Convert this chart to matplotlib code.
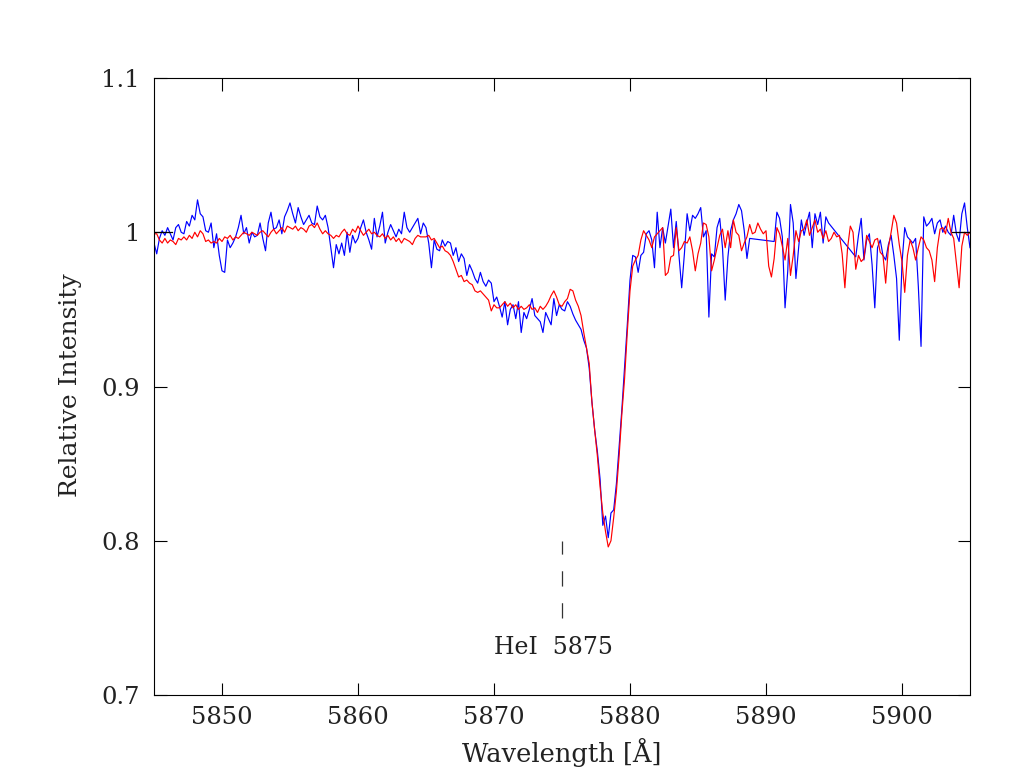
import numpy as np
import matplotlib
matplotlib.use("Agg")
import matplotlib.pyplot as plt

# ---------------- data ----------------
wl_start, wl_step, n_pts = 5845.0, 0.2, 301
wavelength = np.round(wl_start + wl_step * np.arange(n_pts), 2)

blue_flux = [
    0.993, 0.986, 0.996, 1.001, 0.998,
    1.003, 0.999, 0.995, 1.003, 1.005,
    1.000, 0.999, 1.007, 1.004, 1.011,
    1.008, 1.021, 1.012, 1.010, 1.001,
    1.000, 1.006, 0.990, 0.999, 0.985,
    0.975, 0.974, 0.995, 0.990, 0.993,
    0.997, 1.003, 1.011, 0.999, 1.003,
    0.993, 1.000, 0.997, 0.998, 1.006,
    0.996, 0.988, 1.006, 1.013, 1.002,
    1.003, 1.008, 0.999, 1.010, 1.014,
    1.019, 1.012, 1.006, 1.016, 1.010,
    1.005, 1.008, 1.011, 1.006, 1.005,
    1.017, 1.010, 1.008, 1.011, 1.003,
    0.990, 0.977, 0.992, 0.986, 0.993,
    0.985, 1.000, 0.987, 0.998, 0.993,
    0.996, 1.003, 1.008, 1.000, 0.995,
    0.989, 1.009, 0.997, 1.004, 1.013,
    0.993, 1.000, 1.005, 1.001, 0.997,
    1.002, 0.999, 1.013, 1.003, 1.000,
    1.003, 1.006, 1.009, 0.999, 1.006,
    1.003, 0.993, 0.977, 0.995, 0.989,
    0.988, 0.995, 0.991, 0.994, 0.993,
    0.985, 0.990, 0.981, 0.986, 0.983,
    0.972, 0.979, 0.975, 0.970, 0.967,
    0.974, 0.968, 0.965, 0.969, 0.967,
    0.955, 0.958, 0.952, 0.945, 0.955,
    0.940, 0.950, 0.953, 0.944, 0.955,
    0.935, 0.948, 0.944, 0.950, 0.957,
    0.946, 0.944, 0.942, 0.935, 0.948,
    0.944, 0.940, 0.957, 0.946, 0.953,
    0.950, 0.949, 0.955, 0.952, 0.947,
    0.943, 0.940, 0.937, 0.930, 0.925,
    0.912, 0.890, 0.872, 0.858, 0.840,
    0.810, 0.816, 0.802, 0.818, 0.820,
    0.837, 0.861, 0.885, 0.912, 0.940,
    0.969, 0.985, 0.984, 0.974, 0.985,
    0.987, 0.999, 1.001, 0.995, 0.977,
    1.013, 0.990, 1.003, 0.993, 1.004,
    1.015, 0.990, 1.007, 0.985, 0.964,
    0.986, 1.012, 1.001, 1.011, 1.009,
    1.012, 1.016, 0.997, 1.001, 0.945,
    0.986, 0.984, 1.003, 1.009, 0.990,
    0.956, 0.984, 1.001, 1.008, 1.012,
    1.018, 1.014, 1.001, 0.983, 0.996,
    None, None, None, None, None,
    None, None, None, 0.994, 1.013,
    1.009, 0.997, 0.951, 0.975, 1.018,
    1.006, 0.970, 0.990, 1.008, 0.998,
    1.006, 1.013, 0.990, 1.012, 1.005,
    1.013, 0.993, 1.010, 1.006, None,
    None, None, None, None, None,
    None, None, None, 0.984, 0.998,
    1.009, 0.982, 0.995, 0.999, 0.979,
    0.951, 0.990, 0.995, 0.985, 0.982,
    0.992, 0.998, 0.985, 0.970, 0.930,
    0.980, 1.003, 0.997, 0.995, 0.993,
    0.996, 0.965, 0.926, 1.010, 1.004,
    1.006, 1.009, 0.999, 1.006, 1.008,
    1.000, 1.004, 1.000, 0.998, 1.011,
    0.999, 0.994, 1.012, 1.019, 1.003,
    0.990,
]

red_flux = [
    0.999, 0.999, 0.995, 0.993, 0.996,
    0.993, 0.995, 0.994, 0.992, 0.996,
    0.995, 0.997, 0.995, 0.998, 0.996,
    1.000, 0.997, 1.001, 0.999, 0.994,
    0.995, 0.993, 0.994, 0.993, 0.996,
    0.994, 0.997, 0.996, 0.998, 0.995,
    0.997, 0.996, 0.998, 1.000, 0.999,
    0.998, 1.000, 0.999, 0.998, 1.000,
    1.001, 0.999, 0.997, 1.000, 1.002,
    0.999, 1.001, 1.003, 1.000, 1.004,
    1.003, 1.002, 1.004, 1.001, 1.003,
    1.002, 1.000, 1.004, 1.005, 1.003,
    1.006, 1.002, 0.999, 1.001, 0.999,
    0.998, 0.996, 0.998, 0.997, 1.000,
    1.002, 0.999, 0.998, 1.002, 1.000,
    1.004, 1.001, 0.998, 1.000, 1.002,
    0.999, 1.000, 0.998, 0.997, 0.999,
    0.996, 0.998, 0.995, 0.997, 0.994,
    0.996, 0.993, 0.996, 0.995, 0.994,
    0.992, 0.996, 0.998, 0.997, 0.997,
    0.997, 0.998, 0.995, 0.996, 0.993,
    0.990, 0.991, 0.988, 0.987, 0.985,
    0.981, 0.976, 0.971, 0.972, 0.968,
    0.969, 0.967, 0.966, 0.962, 0.961,
    0.962, 0.960, 0.958, 0.956, 0.949,
    0.953, 0.951, 0.951, 0.953, 0.955,
    0.952, 0.954, 0.951, 0.953, 0.950,
    0.952, 0.950, 0.951, 0.953, 0.950,
    0.951, 0.948, 0.952, 0.950, 0.952,
    0.955, 0.959, 0.962, 0.958, 0.953,
    0.952, 0.955, 0.957, 0.963, 0.962,
    0.956, 0.952, 0.946, 0.935, 0.925,
    0.915, 0.890, 0.872, 0.855, 0.835,
    0.818, 0.806, 0.796, 0.800, 0.815,
    0.832, 0.855, 0.882, 0.905, 0.935,
    0.962, 0.978, 0.982, 0.985, 0.995,
    1.001, 0.998, 0.995, 0.990, 0.997,
    0.999, 1.001, 1.003, 0.972, 0.974,
    0.984, 0.985, 1.003, 0.988, 0.990,
    0.994, 0.993, 0.997, 0.988, 0.975,
    0.986, 0.993, 1.006, 1.005, 0.997,
    0.975, 0.982, 0.990, 0.998, 1.002,
    0.990, 1.001, 0.990, 1.008, 1.000,
    0.998, 0.988, 0.993, 0.997, 1.005,
    0.999, 1.000, 1.006, 1.002, 0.999,
    1.001, 0.978, 0.971, 0.983, 1.003,
    0.999, 0.991, 0.982, 0.996, 0.972,
    0.985, 1.001, 0.994, 1.001, 1.002,
    1.008, 0.998, 1.003, 1.008, 1.000,
    1.002, 0.996, 1.001, 0.994, 0.996,
    1.000, 0.997, 0.998, 0.986, 0.964,
    0.990, 1.004, 1.000, 0.976, 0.985,
    0.981, 0.983, 0.998, 0.994, 0.990,
    0.995, 0.996, 0.987, 0.985, 0.967,
    0.990, 1.000, 1.011, 1.006, 0.992,
    0.981, 0.961, 0.985, 0.995, 0.990,
    0.982, 0.990, 0.997, 0.995, 0.990,
    0.988, 0.982, 0.968, 0.990, 1.002,
    1.003, 0.999, 1.009, 1.000, 0.996,
    0.980, 0.964, 0.991, 1.000, 0.998,
    1.000,
]

continuum_left = [5845.0, 5846.3]
continuum_right = [5903.7, 5905.0]
continuum_level = 1.0

line_name = "HeI  5875"
line_wl = 5875.0
line_marker_y = [0.75, 0.80]
line_label_y = 0.7305

x_ticks = [5850, 5860, 5870, 5880, 5890, 5900]
y_ticks = [0.7, 0.8, 0.9, 1.0, 1.1]
y_tick_labels = ["0.7", "0.8", "0.9", "1", "1.1"]

# ---------------- plot ----------------
plt.rcParams["lines.scale_dashes"] = False
plt.rcParams["font.family"] = ["DejaVu Serif"]
text_color = "#222222"

fig = plt.figure(figsize=(10.21, 7.71), dpi=100)
ax = fig.add_axes([154 / 1021, 1 - 695 / 771, (970 - 154) / 1021, (695 - 78) / 771])

bf = np.array([np.nan if v is None else v for v in blue_flux], dtype=float)
mask = ~np.isnan(bf)
ax.plot(wavelength[mask], bf[mask], color="#0000ff", lw=0.85)
ax.plot(wavelength, np.array(red_flux), color="#ff0000", lw=0.85)

ax.plot(continuum_left, [continuum_level] * 2, color="black", lw=0.9)
ax.plot(continuum_right, [continuum_level] * 2, color="black", lw=0.9)

ax.plot([line_wl, line_wl], line_marker_y, color="#333333", lw=0.9,
        dashes=(11, 12))
ax.text(line_wl - 0.65, line_label_y, line_name, ha="center", va="center",
        fontsize=17, color=text_color)

ax.set_xlim(5845, 5905)
ax.set_ylim(0.7, 1.1)
ax.set_xticks(x_ticks)
ax.set_yticks(y_ticks)
ax.set_yticklabels(y_tick_labels)
ax.tick_params(direction="in", length=9, width=0.8, top=True, right=True,
               labelsize=17.5, colors="black", labelcolor=text_color)
ax.tick_params(axis="x", pad=8)
ax.tick_params(axis="y", pad=10)
for s in ax.spines.values():
    s.set_linewidth(0.8)

ax.set_xlabel("Wavelength [Å]", fontsize=18.5, color=text_color, va="center")
ax.xaxis.set_label_coords(0.5, (695 - 752) / 617)
ax.set_ylabel("Relative Intensity", fontsize=18, color=text_color, va="center")
ax.yaxis.set_label_coords((70 - 154) / 816, (695 - 385) / 617)

fig.savefig("out.png", dpi=100)
